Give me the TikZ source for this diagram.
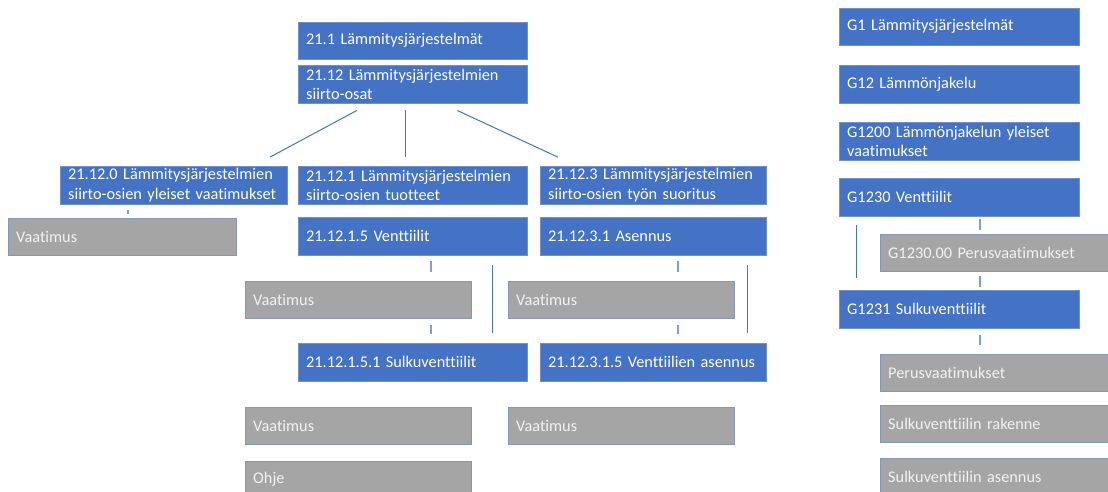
\documentclass[tikz,border=0pt]{standalone}
\usepackage{fontspec}
\setmainfont{Carlito}[Ligatures=CommonOff]
\usetikzlibrary{calc}
\definecolor{nodeblue}{HTML}{4472C4}
\definecolor{nodeedge}{HTML}{6F90D2}
\definecolor{reqgray}{HTML}{A5A5A5}
\definecolor{reqedge}{HTML}{8497B8}
\definecolor{tickblue}{HTML}{7C9EDC}
\tikzset{item/.style={draw=nodeedge,fill=nodeblue,text=white,anchor=north west,
    inner xsep=8pt,inner ysep=0pt,minimum height=38pt,text width=#1,align=left,
    font=\fontsize{16.3}{19.5}\selectfont},
  item/.default=213pt,
  req/.style={item=#1,draw=reqedge,fill=reqgray,text=white!95!black,minimum height=37pt},
  req/.default=210pt,
  link/.style={draw=nodeblue,line width=1pt},
  tick/.style={draw=tickblue,line width=1.6pt}}

\begin{document}
\begin{tikzpicture}[x=1pt,y=-1pt]
		\useasboundingbox (0,0) rectangle (1108,491);
		\clip (0,0) rectangle (1108,491);
		\fill[white] (0,0) rectangle (1108,491);
		
		% vasen puoli
		\node[item,minimum height=37pt] (s1) at (298,22) {21.1 Lämmitysjärjestelmät};
		\node[item] (s12) at (298,65) {21.12 Lämmitysjärjestelmien\\siirto-osat};
		\node[item=211pt] (s120) at (60,166) {21.12.0 Lämmitysjärjestelmien\\siirto-osien yleiset vaatimukset};
		\node[item] (s121) at (298,166) {21.12.1 Lämmitysjärjestelmien\\siirto-osien tuotteet};
		\node[item=210pt] (s123) at (540,166) {21.12.3 Lämmitysjärjestelmien\\siirto-osien työn suoritus};
		\node[req=212pt] (r120) at (8,218) {Vaatimus};
		\node[item] (s1215) at (298,217) {21.12.1.5 Venttiilit};
		\node[item=210pt] (s1231) at (540,217) {21.12.3.1 Asennus};
		\node[req] (r1215) at (245,281) {Vaatimus};
		\node[req] (r1231) at (508,281) {Vaatimus};
		\node[item] (s12151) at (298,343) {21.12.1.5.1 Sulkuventtiilit};
		\node[item=210pt] (s12315) at (540,343) {21.12.3.1.5 Venttiilien asennus};
		\node[req] (r12151) at (245,407) {Vaatimus};
		\node[req] (r12315) at (508,407) {Vaatimus};
		\node[req] (o12151) at (245,461) {Ohje};
		
		% oikea puoli
		\node[item=224pt,minimum height=37pt] (g1) at (839,8) {G1 Lämmitysjärjestelmät};
		\node[item=224pt] (g12) at (839,65) {G12 Lämmönjakelu};
		\node[item=224pt] (g1200) at (839,122) {G1200 Lämmönjakelun yleiset\\vaatimukset};
		\node[item=224pt] (g1230) at (839,178) {G1230 Venttiilit};
		\node[req=224pt] (g123000) at (880,234) {G1230.00 Perusvaatimukset};
		\node[item=224pt] (g1231) at (839,290) {G1231 Sulkuventtiilit};
		\node[req=224pt] (p1231) at (880,354) {Perusvaatimukset};
		\node[req=224pt] (k1231) at (880,405) {Sulkuventtiilin rakenne};
		\node[req=224pt] (a1231) at (880,458) {Sulkuventtiilin asennus};
		
		\draw[link, shorten <=15pt, shorten >=19pt] ($(s12.south west)+(72,0)$) -- ($(s120.north east)+(-34,0)$);
		\draw[link, shorten <=7pt, shorten >=9pt] ($(s12.south west)+(107,0)$) -- ($(s121.north west)+(107,0)$);
		\draw[link, shorten <=17pt, shorten >=21pt] ($(s12.south west)+(144,0)$) -- ($(s123.north west)+(37,0)$);
		
		\draw[tick, shorten <=6pt, shorten >=4pt] ($(s120.south west)+(68,0)$) -- ($(r120.north west)+(120,0)$);
		\draw[tick, shorten <=6pt, shorten >=9pt] ($(s1215.south west)+(133,0)$) -- ($(r1215.north west)+(186,0)$);
		\draw[tick, shorten <=7pt, shorten >=9pt] ($(r1215.south west)+(186,0)$) -- ($(s12151.north west)+(133,0)$);
		\draw[link, shorten <=10pt, shorten >=10pt] ($(s1215.south west)+(194,0)$) -- ($(s12151.north west)+(194,0)$);
		\draw[tick, shorten <=6pt, shorten >=9pt] ($(s1231.south west)+(138,0)$) -- ($(r1231.north west)+(170,0)$);
		\draw[tick, shorten <=7pt, shorten >=9pt] ($(r1231.south west)+(170,0)$) -- ($(s12315.north west)+(138,0)$);
		\draw[link, shorten <=10pt, shorten >=10pt] ($(s1231.south west)+(207,0)$) -- ($(s12315.north west)+(207,0)$);
		
		\draw[tick, shorten <=3pt, shorten >=4pt] ($(g1230.south west)+(141,0)$) -- ($(g123000.north west)+(100,0)$);
		\draw[tick, shorten <=5pt, shorten >=3pt] ($(g123000.south west)+(100,0)$) -- ($(g1231.north west)+(141,0)$);
		\draw[link, shorten <=9pt, shorten >=12pt] ($(g1230.south west)+(17,0)$) -- ($(g1231.north west)+(17,0)$);
		\draw[tick, shorten <=7pt, shorten >=9pt] ($(g1231.south west)+(141,0)$) -- ($(p1231.north west)+(100,0)$);
\end{tikzpicture}
\end{document}
